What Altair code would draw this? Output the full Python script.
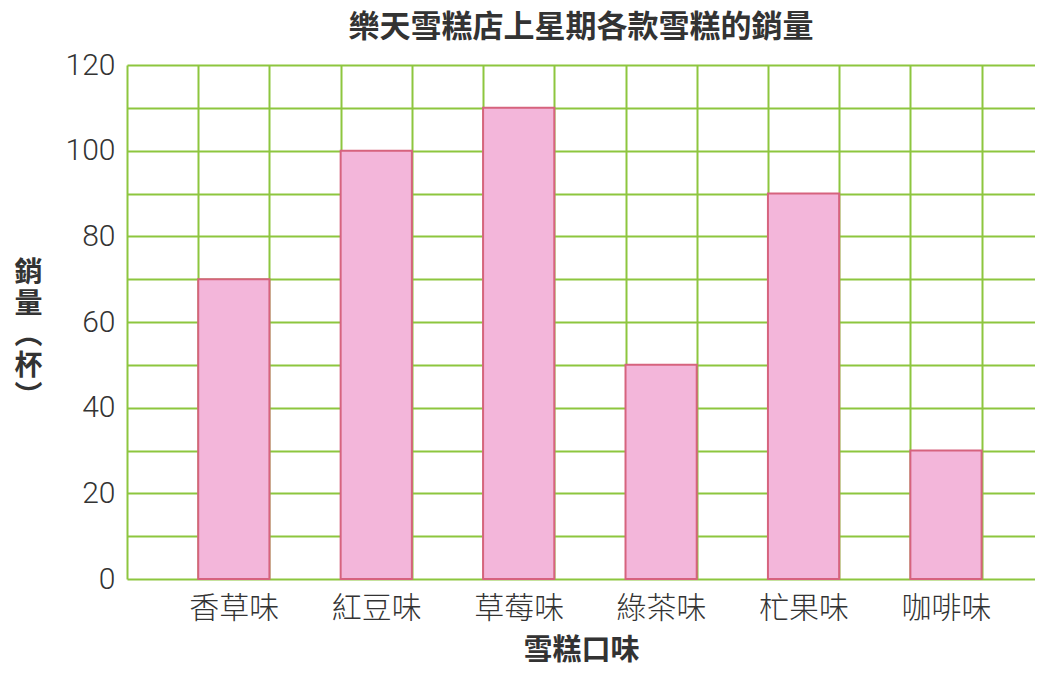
import altair as alt
import pandas as pd
import json

flavors = ["香草味", "紅豆味", "草莓味", "綠茶味", "杧果味", "咖啡味"]
sales = [70, 100, 110, 50, 90, 30]
y_ticks = list(range(0, 130, 10))
title_text = "樂天雪糕店上星期各款雪糕的銷量"
x_title = "雪糕口味"
y_title_lines = ["銷", "量", "︵", "杯", "︶"]

n = len(flavors)
df = pd.DataFrame({
    "flavor": flavors,
    "sales": sales,
    "x0": [2 * i + 1 for i in range(n)],
    "x1": [2 * i + 2 for i in range(n)],
})

x_end = 2 * n + 0.75
grid_vals = list(range(0, 2 * n + 1))
label_vals = [2 * i + 1.5 for i in range(n)]
x_vals = sorted(grid_vals + label_vals)
cat_js = json.dumps(flavors, ensure_ascii=False)

GREEN = "#8DC63F"
FONT = "Noto Sans CJK TC"

x_axis = alt.Axis(
    values=x_vals,
    grid=True,
    gridColor=GREEN,
    gridWidth=2,
    gridOpacity={"condition": {"test": "datum.value % 1 == 0", "value": 1}, "value": 0},
    ticks=False,
    domain=False,
    labelExpr=f"datum.value % 1 == 0 ? '' : {cat_js}[floor(datum.value / 2)]",
    labelOverlap=False,
    labelFlush=False,
    labelFont=FONT,
    labelFontSize=30,
    labelFontWeight=300,
    labelColor="#333333",
    labelPadding=14,
    title=x_title,
    titleFont=FONT,
    titleFontSize=29,
    titleFontWeight="bold",
    titleColor="#333333",
    titlePadding=13,
)

y_axis = alt.Axis(
    values=y_ticks,
    grid=True,
    gridColor=GREEN,
    gridWidth=2,
    ticks=False,
    domain=False,
    labelExpr="datum.value % 20 == 0 ? datum.label : ''",
    labelFont="Roboto",
    labelFontSize=30,
    labelFontWeight=300,
    labelColor="#333333",
    labelPadding=12,
    title=y_title_lines,
    titleAngle=0,
    titleFont=FONT,
    titleFontSize=28,
    titleFontWeight="bold",
    titleColor="#333333",
    titleLineHeight=31,
    titleAlign="center",
    titleBaseline="middle",
    titleX=-99,
    titleY=208,
)

chart = alt.Chart(df).mark_bar(
    fill="#F3B6DA", stroke="#D6637E", strokeWidth=2
).encode(
    x=alt.X("x0:Q", scale=alt.Scale(domain=[0, x_end], nice=False, zero=False), axis=x_axis),
    x2="x1:Q",
    y=alt.Y("sales:Q", scale=alt.Scale(domain=[0, 120], nice=False), axis=y_axis),
    y2=alt.datum(0),
).properties(
    width=908,
    height=514,
    title=alt.TitleParams(
        text=title_text, font=FONT, fontSize=31, fontWeight="bold",
        color="#333333", anchor="middle", offset=6,
    ),
    padding={"left": 5, "top": 4, "right": 0, "bottom": 3},
).configure_view(stroke=None)

chart.save("out.html", embed_options={"renderer": "svg", "actions": False})
